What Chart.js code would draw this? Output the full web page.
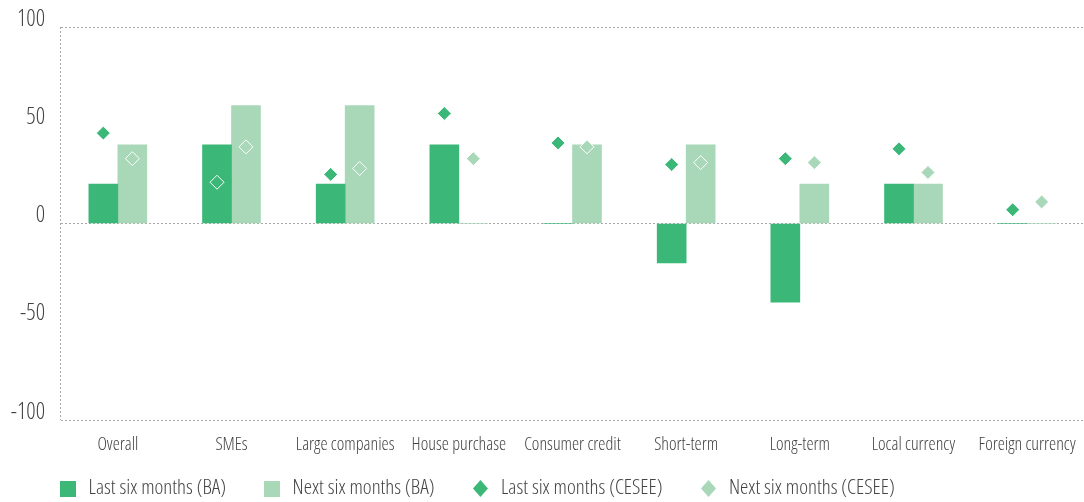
<!DOCTYPE html>
<html>
<head>
<meta charset="utf-8">
<script src="https://cdn.jsdelivr.net/npm/chart.js@4/dist/chart.umd.min.js"></script>
<style>
  html, body { margin: 0; padding: 0; background: #ffffff; }
  #wrap { width: 1084px; height: 502px; position: relative; }
</style>
</head>
<body>
<div id="wrap"><canvas id="c" width="1084" height="502"></canvas></div>
<script>
// ---- data ----
const categories = ['Overall', 'SMEs', 'Large companies', 'House purchase', 'Consumer credit', 'Short-term', 'Long-term', 'Local currency', 'Foreign currency'];
const lastSixBA = [20, 40, 20, 40, 0, -20, -40, 20, 0];
const nextSixBA = [40, 60, 60, 0, 40, 40, 20, 20, 0];
const lastSixCESEE = [46, 21, 25, 56, 41, 30, 33, 38, 7];
const nextSixCESEE = [33, 39, 28, 33, 39, 31, 31, 26, 11];
const seriesNames = ['Last six months (BA)', 'Next six months (BA)', 'Last six months (CESEE)', 'Next six months (CESEE)'];
const yTicks = [100, 50, 0, -50, -100];

// ---- style ----
const DARK = '#3BB878';
const LIGHT = '#A8D8B8';
const TEXT = '#444444';
const GRID = '#ABABAB';
const FONT = '"Open Sans", "Roboto Condensed", sans-serif';
const WEIGHT = '300 condensed';
const GROUP_WIDTH = 0.51;          // share of a category taken by the two bars
const OFF = GROUP_WIDTH / 4;       // offset of each series from the category centre

function icon(color, shape) {
  const c = document.createElement('canvas');
  if (shape === 'rect') {
    c.width = 16; c.height = 16;
    const g = c.getContext('2d');
    g.fillStyle = color; g.fillRect(0, 0, 16, 16);
  } else {
    c.width = 15; c.height = 17;
    const g = c.getContext('2d');
    g.fillStyle = color;
    g.beginPath(); g.moveTo(7.5, 0); g.lineTo(15, 8.5); g.lineTo(7.5, 17); g.lineTo(0, 8.5); g.closePath(); g.fill();
  }
  return c;
}
const legendIcons = [icon(DARK, 'rect'), icon(LIGHT, 'rect'), icon(DARK, 'diamond'), icon(LIGHT, 'diamond')];

Chart.defaults.font.family = FONT;
Chart.defaults.font.weight = WEIGHT;
Chart.defaults.color = TEXT;

const placeLegend = {
  id: 'placeLegend',
  afterLayout(chart) {
    const lg = chart.legend;
    if (!lg) return;
    lg.left = 22;
    lg.top = 442;
    lg.bottom = 502;
    lg.height = lg.bottom - lg.top;
  }
};

const atSlot = (arr, shift) => arr.map((v, i) => ({ x: i + shift, y: v }));

new Chart(document.getElementById('c'), {
  type: 'bar',
  data: {
    labels: categories,
    datasets: [
      { label: seriesNames[0], xAxisID: 'x2', data: atSlot(lastSixBA, -OFF),
        backgroundColor: DARK, borderWidth: 0, order: 2 },
      { label: seriesNames[1], xAxisID: 'x2', data: atSlot(nextSixBA, OFF),
        backgroundColor: LIGHT, borderWidth: 0, order: 2 },
      { type: 'line', label: seriesNames[2], xAxisID: 'x2', data: atSlot(lastSixCESEE, -OFF),
        showLine: false, pointStyle: 'rectRot', pointRadius: 7, pointHoverRadius: 7,
        pointBackgroundColor: DARK, pointBorderColor: '#ffffff', pointBorderWidth: 1,
        backgroundColor: DARK, borderColor: DARK, order: 1 },
      { type: 'line', label: seriesNames[3], xAxisID: 'x2', data: atSlot(nextSixCESEE, OFF),
        showLine: false, pointStyle: 'rectRot', pointRadius: 7, pointHoverRadius: 7,
        pointBackgroundColor: LIGHT, pointBorderColor: '#ffffff', pointBorderWidth: 1,
        backgroundColor: LIGHT, borderColor: LIGHT, order: 1 }
    ]
  },
  options: {
    responsive: false,
    animation: false,
    events: [],
    layout: { autoPadding: false, padding: { left: 5, right: 0, top: 27, bottom: 0 } },
    datasets: { bar: { grouped: false, categoryPercentage: 1, barPercentage: 1 } },
    scales: {
      x: {
        type: 'category',
        offset: true,
        grid: {
          offset: true, drawTicks: false, lineWidth: 1,
          color: (ctx) => ctx.index === 0 ? GRID : 'rgba(0,0,0,0)'
        },
        border: { display: false, dash: [2, 2] },
        ticks: { font: { size: 18 }, color: TEXT, padding: 14, maxRotation: 0, autoSkip: false },
        afterFit: (s) => { s.height = 40; s.paddingLeft = 0; s.paddingRight = 0; }
      },
      x2: {
        type: 'linear', display: false, offset: false, grid: { offset: false },
        min: -0.5, max: categories.length - 0.5,
        afterFit: (s) => { s.paddingLeft = 0; s.paddingRight = 0; }
      },
      y: {
        stacked: false,
        min: yTicks[yTicks.length - 1], max: yTicks[0],
        afterBuildTicks: (s) => { s.ticks = yTicks.map(v => ({ value: v })); },
        grid: {
          drawTicks: false, lineWidth: 1,
          color: (ctx) => (ctx.tick && Math.abs(ctx.tick.value) % 100 === 0) ? GRID : 'rgba(0,0,0,0)'
        },
        border: { display: false, dash: [2, 2] },
        ticks: { font: { size: 23 }, color: TEXT, padding: 16, labelOffset: -8 },
        afterFit: (s) => { s.width = 56; s.paddingTop = 0; s.paddingBottom = 0; }
      }
    },
    plugins: {
      tooltip: { enabled: false },
      legend: {
        position: 'bottom',
        align: 'start',
        maxHeight: 42,
        labels: {
          usePointStyle: true,
          pointStyleWidth: 20,
          boxHeight: 16,
          padding: 36,
          font: { size: 21 },
          color: TEXT,
          sort: (a, b) => a.datasetIndex - b.datasetIndex,
          generateLabels: (chart) => {
            const items = Chart.defaults.plugins.legend.labels.generateLabels(chart);
            items.forEach((it) => { it.pointStyle = legendIcons[it.datasetIndex]; });
            return items;
          }
        }
      }
    }
  },
  plugins: [placeLegend]
});
</script>
</body>
</html>
